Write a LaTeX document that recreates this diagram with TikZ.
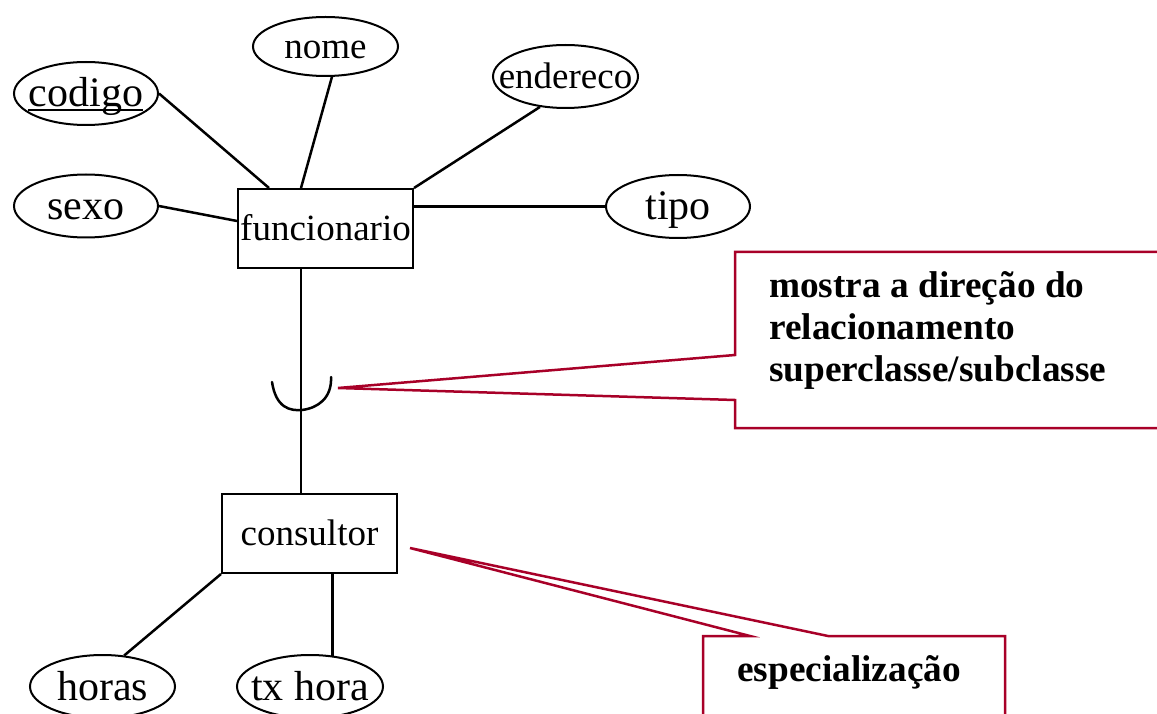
\documentclass[tikz,border=0pt]{standalone}
\usepackage{fontspec}
\setmainfont{Liberation Serif}
\usetikzlibrary{shapes.geometric,calc}
\definecolor{callred}{RGB}{168,0,40}
\newcommand\fbig{\fontsize{42}{48}\selectfont}
\newcommand\fsmall{\fontsize{37}{42}\selectfont}
\newcommand\zb[1]{\makebox[0pt]{#1}}
\begin{document}
\begin{tikzpicture}[x=1pt,y=-1pt,
  attr/.style={draw, ellipse, line width=2pt, inner sep=0pt, minimum width=144pt, minimum height=63pt, font=\fbig, text height=34pt, text depth=7pt},
  sattr/.style={attr, font=\fsmall, text height=30pt, text depth=6pt},
  ent/.style={draw, rectangle, line width=2pt, inner sep=0pt, minimum width=175pt, minimum height=79pt, font=\fsmall, text height=30pt, text depth=6pt},
  link/.style={line width=2.5pt, line join=round},
  callout/.style={draw=callred, line width=2.5pt, line join=miter, fill=white},
  note/.style={font=\fontsize{37.3}{42}\selectfont\bfseries, inner sep=0pt, align=left}
]
\useasboundingbox (0,0) rectangle (1157,714);
\clip (0,0) rectangle (1157,714);

% attributes
\node[attr] (codigo) at (86,93.5) {\zb{codigo}};
\node[sattr, minimum height=59pt, minimum width=145pt] (nome) at (325.5,46.5) {\zb{nome}};
\node[sattr, minimum width=145pt] (endereco) at (565.5,76.5) {\zb{endereco}};
\node[attr] (sexo) at (86,206) {\zb{sexo}};
\node[attr] (tipo) at (678,206.5) {\zb{tipo}};
\node[attr, minimum width=145pt] (horas) at (102.5,686.5) {\zb{horas}};
\node[attr, minimum width=146pt] (txhora) at (310,686.5) {\zb{tx hora}};
\draw[line width=2pt] (28,110) -- (143,110);

% entities
\node[ent] (funcionario) at (325.5,228.5) {funcionario};
\node[ent] (consultor) at (309.5,533.5) {consultor};

% connectors
\draw[link] (codigo.east) -- ([xshift=32pt]funcionario.north west);
\draw[link] (nome.-78) -- ([xshift=64pt]funcionario.north west);
\draw[link] (endereco.-130) -- (funcionario.north east);
\draw[link] (sexo.east) -- ([yshift=-33pt]funcionario.north west);
\draw[link] (tipo.west) -- (tipo.west -| funcionario.east);
\draw[link] ([xshift=64pt]funcionario.south west) -- ([xshift=80pt]consultor.north west);
\draw[link] (consultor.south west) -- (horas.55);
\draw[link] (txhora.54) -- (txhora.54 |- consultor.south);

% subset symbol
\draw[line width=2.5pt, line cap=round] (272,382) .. controls (276,408) and (290,411) .. (302,410)
  .. controls (318,408) and (332,398) .. (331,377);

% callout 1
\coordinate (tip1) at (338,388);
\draw[callout] (735,252) -- (1165,252) -- (1165,428) -- (735,428) -- (735,400) -- (tip1) -- (735,355) -- cycle;
\node[note, anchor=north west] (note1) at (769,271) {mostra a direção do\\relacionamento\\superclasse/subclasse};

% callout 2
\coordinate (tip2) at (410,548);
\draw[callout] (703,636) -- (750,636) -- (tip2) -- (828,636) -- (1005,636) -- (1005,730) -- (703,730) -- cycle;
\node[note, anchor=base west] (note2) at (737,681) {especialização};
\end{tikzpicture}
\end{document}
